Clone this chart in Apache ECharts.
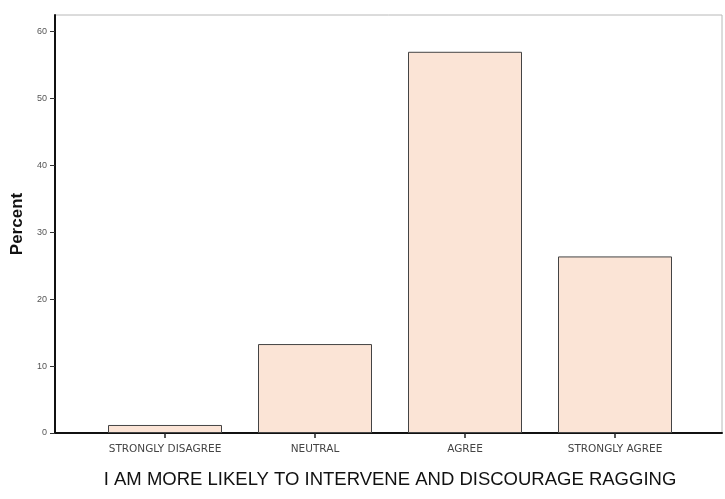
<!DOCTYPE html>
<html>
<head>
<meta charset="utf-8">
<script src="https://cdn.jsdelivr.net/npm/echarts@6/dist/echarts.min.js"></script>
<style>
html,body{margin:0;padding:0;background:#fff;}
#chart{width:725px;height:499px;}
</style>
</head>
<body>
<div id="chart"></div>
<script>
var categories = ['STRONGLY DISAGREE', 'NEUTRAL', 'AGREE', 'STRONGLY AGREE'];
var percentValues = [1.2, 13.3, 57.0, 26.4];
var yTicks = [0, 10, 20, 30, 40, 50, 60];
var xTitle = 'I AM MORE LIKELY TO INTERVENE AND DISCOURAGE RAGGING';
var yTitle = 'Percent';

var yMax = 62.5;
var chart = echarts.init(document.getElementById('chart'));
chart.setOption({
  animation: false,
  backgroundColor: '#ffffff',
  grid: [
    {left: 55, right: 3, top: 15, bottom: 66, show: true, borderColor: '#b8b8b8', borderWidth: 1, backgroundColor: 'transparent'},
    {left: 90, right: 35, top: 15, bottom: 66}
  ],
  xAxis: [
    {type: 'category', gridIndex: 0, data: categories,
     axisLine: {show: true, lineStyle: {color: '#111', width: 2}},
     axisTick: {show: false}, axisLabel: {show: false}},
    {type: 'category', gridIndex: 1, data: categories,
     axisLine: {show: false},
     axisTick: {show: true, alignWithLabel: true, length: 5, lineStyle: {color: '#222', width: 1.5}},
     axisLabel: {color: '#444', fontSize: 10.5, fontFamily: 'DejaVu Sans, sans-serif', margin: 11},
     name: xTitle, nameLocation: 'middle', nameGap: 37,
     nameTextStyle: {color: '#111', fontSize: 18.5, fontFamily: 'Liberation Sans, Arial, sans-serif'}}
  ],
  yAxis: [
    {type: 'value', gridIndex: 0, min: 0, max: yMax, interval: 10,
     axisLine: {show: true, lineStyle: {color: '#111', width: 2}},
     axisTick: {show: true, length: 5, lineStyle: {color: '#333'}},
     axisLabel: {color: '#555', fontSize: 9, showMaxLabel: false,
       formatter: function (v) { return yTicks.indexOf(v) >= 0 ? String(v) : ''; }},
     splitLine: {show: false},
     name: yTitle, nameLocation: 'middle', nameGap: 27, nameRotate: 90,
     nameTextStyle: {color: '#111', fontSize: 17, fontWeight: 'bold', fontFamily: 'Liberation Sans, Arial, sans-serif'}},
    {type: 'value', gridIndex: 1, min: 0, max: yMax, interval: 10, show: false, splitLine: {show: false}}
  ],
  series: [{
    type: 'bar', xAxisIndex: 1, yAxisIndex: 1,
    data: percentValues,
    barCategoryGap: '24%',
    itemStyle: {color: '#fbe4d6', borderColor: '#444', borderWidth: 1}
  }]
});
</script>
</body>
</html>
